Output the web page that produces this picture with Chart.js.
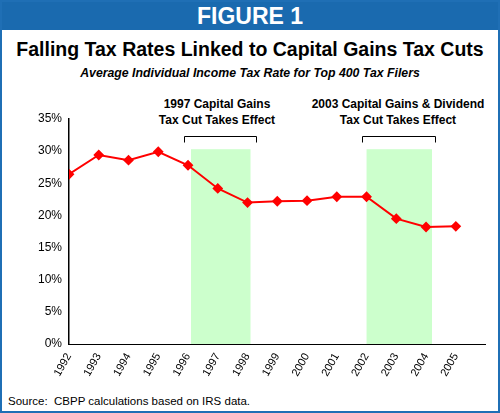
<!DOCTYPE html>
<html><head><meta charset="utf-8">
<script src="https://cdn.jsdelivr.net/npm/chart.js@4/dist/chart.umd.min.js"></script>
<style>
body{margin:0;width:500px;height:413px;overflow:hidden;font-family:Arial,"Liberation Sans",sans-serif;background:#fff}
#frame{position:absolute;left:0;top:0;width:496px;height:409px;border:2px solid #1f6fb5}
#head{position:absolute;left:2px;top:2px;width:496px;height:28px;background:#1a6aaf;color:#fff;font-size:23px;font-weight:bold;text-align:center;line-height:29px}
#title{position:absolute;left:0;top:38px;width:500px;text-align:center;font-size:19.5px;font-weight:bold;color:#000}
#sub{position:absolute;left:0;top:66px;width:500px;text-align:center;font-size:12.3px;font-weight:bold;font-style:italic}
.ann{position:absolute;top:96px;text-align:center;font-size:12px;font-weight:bold;line-height:16px;width:200px}
#src{position:absolute;left:8px;top:395px;font-size:11.5px}
#wrap{position:absolute;left:0;top:100px;width:500px;height:300px}
</style></head><body>
<div id="frame"></div>
<div id="head">FIGURE 1</div>
<div id="title">Falling Tax Rates Linked to Capital Gains Tax Cuts</div>
<div id="sub">Average Individual Income Tax Rate for Top 400 Tax Filers</div>
<div class="ann" style="left:117px">1997 Capital Gains<br>Tax Cut Takes Effect</div>
<div class="ann" style="left:298px">2003 Capital Gains &amp; Dividend<br>Tax Cut Takes Effect</div>
<div id="src">Source:&nbsp; CBPP calculations based on IRS data.</div>
<div id="wrap"><canvas id="c"></canvas></div>
<script>
// data
const years = [1992,1993,1994,1995,1996,1997,1998,1999,2000,2001,2002,2003,2004,2005];
const rates = [26.4,29.4,28.6,29.9,27.8,24.2,22.0,22.2,22.3,22.9,22.9,19.5,18.2,18.3];
const bandStart = [1996.1, 2002.0];
const bandEnd   = [1998.1, 2004.2];
const bandTop   = 30.3;
const bracketStart = [1995.85, 2001.85];
const bracketEnd   = [1998.3, 2004.3];
const bracketLevel = 32.3;

const shading = {
  id: 'shading',
  beforeDatasetsDraw(chart) {
    const {ctx, scales: {x, y}} = chart;
    ctx.save();
    ctx.fillStyle = '#ccffcc';
    bandStart.forEach((s, i) => {
      const x0 = x.getPixelForValue(s), x1 = x.getPixelForValue(bandEnd[i]);
      const y0 = y.getPixelForValue(bandTop), y1 = y.getPixelForValue(0);
      ctx.fillRect(x0, y0, x1 - x0, y1 - y0);
    });
    ctx.strokeStyle = '#000';
    ctx.lineWidth = 1;
    bracketStart.forEach((s, i) => {
      const x0 = Math.round(x.getPixelForValue(s)) + 0.5;
      const x1 = Math.round(x.getPixelForValue(bracketEnd[i])) + 0.5;
      const yb = Math.round(y.getPixelForValue(bracketLevel)) + 0.5;
      ctx.beginPath();
      ctx.moveTo(x0, yb + 6); ctx.lineTo(x0, yb); ctx.lineTo(x1, yb); ctx.lineTo(x1, yb + 6);
      ctx.stroke();
    });
    ctx.restore();
  }
};

new Chart(document.getElementById('c'), {
  type: 'line',
  data: {
    datasets: [{
      data: years.map((yr, i) => ({x: yr, y: rates[i]})),
      borderColor: '#ff0000',
      backgroundColor: '#ff0000',
      borderWidth: 2,
      pointStyle: 'rectRot',
      pointRadius: 4,
      tension: 0
    }]
  },
  options: {
    responsive: true,
    maintainAspectRatio: false,
    animation: false,
    layout: { padding: { top: 19, right: 13, left: 0, bottom: 0 } },
    plugins: { legend: { display: false }, tooltip: { enabled: false } },
    scales: {
      x: {
        type: 'linear', min: 1992, max: 2006,
        afterFit(s) { s.height = 56; },
        afterBuildTicks(s) { s.ticks = years.map(v => ({value: v})).concat([{value: 2006}]); },
        ticks: {
          color: '#000', font: { size: 11, family: 'Arial' },
          maxRotation: 60, minRotation: 60, autoSkip: false,
          callback: v => v === 2006 ? '' : String(v)
        },
        grid: { display: false, drawTicks: true, tickLength: 4 },
        border: { color: '#000', width: 1 }
      },
      y: {
        min: 0, max: 35,
        afterFit(s) { s.width = 69; },
        ticks: { stepSize: 5, color: '#000', font: { size: 12, family: 'Arial' }, callback: v => v + '%' },
        grid: { display: false, drawTicks: true, tickLength: 4 },
        border: { color: '#000', width: 1.5 }
      }
    }
  },
  plugins: [shading]
});
</script>
</body></html>
